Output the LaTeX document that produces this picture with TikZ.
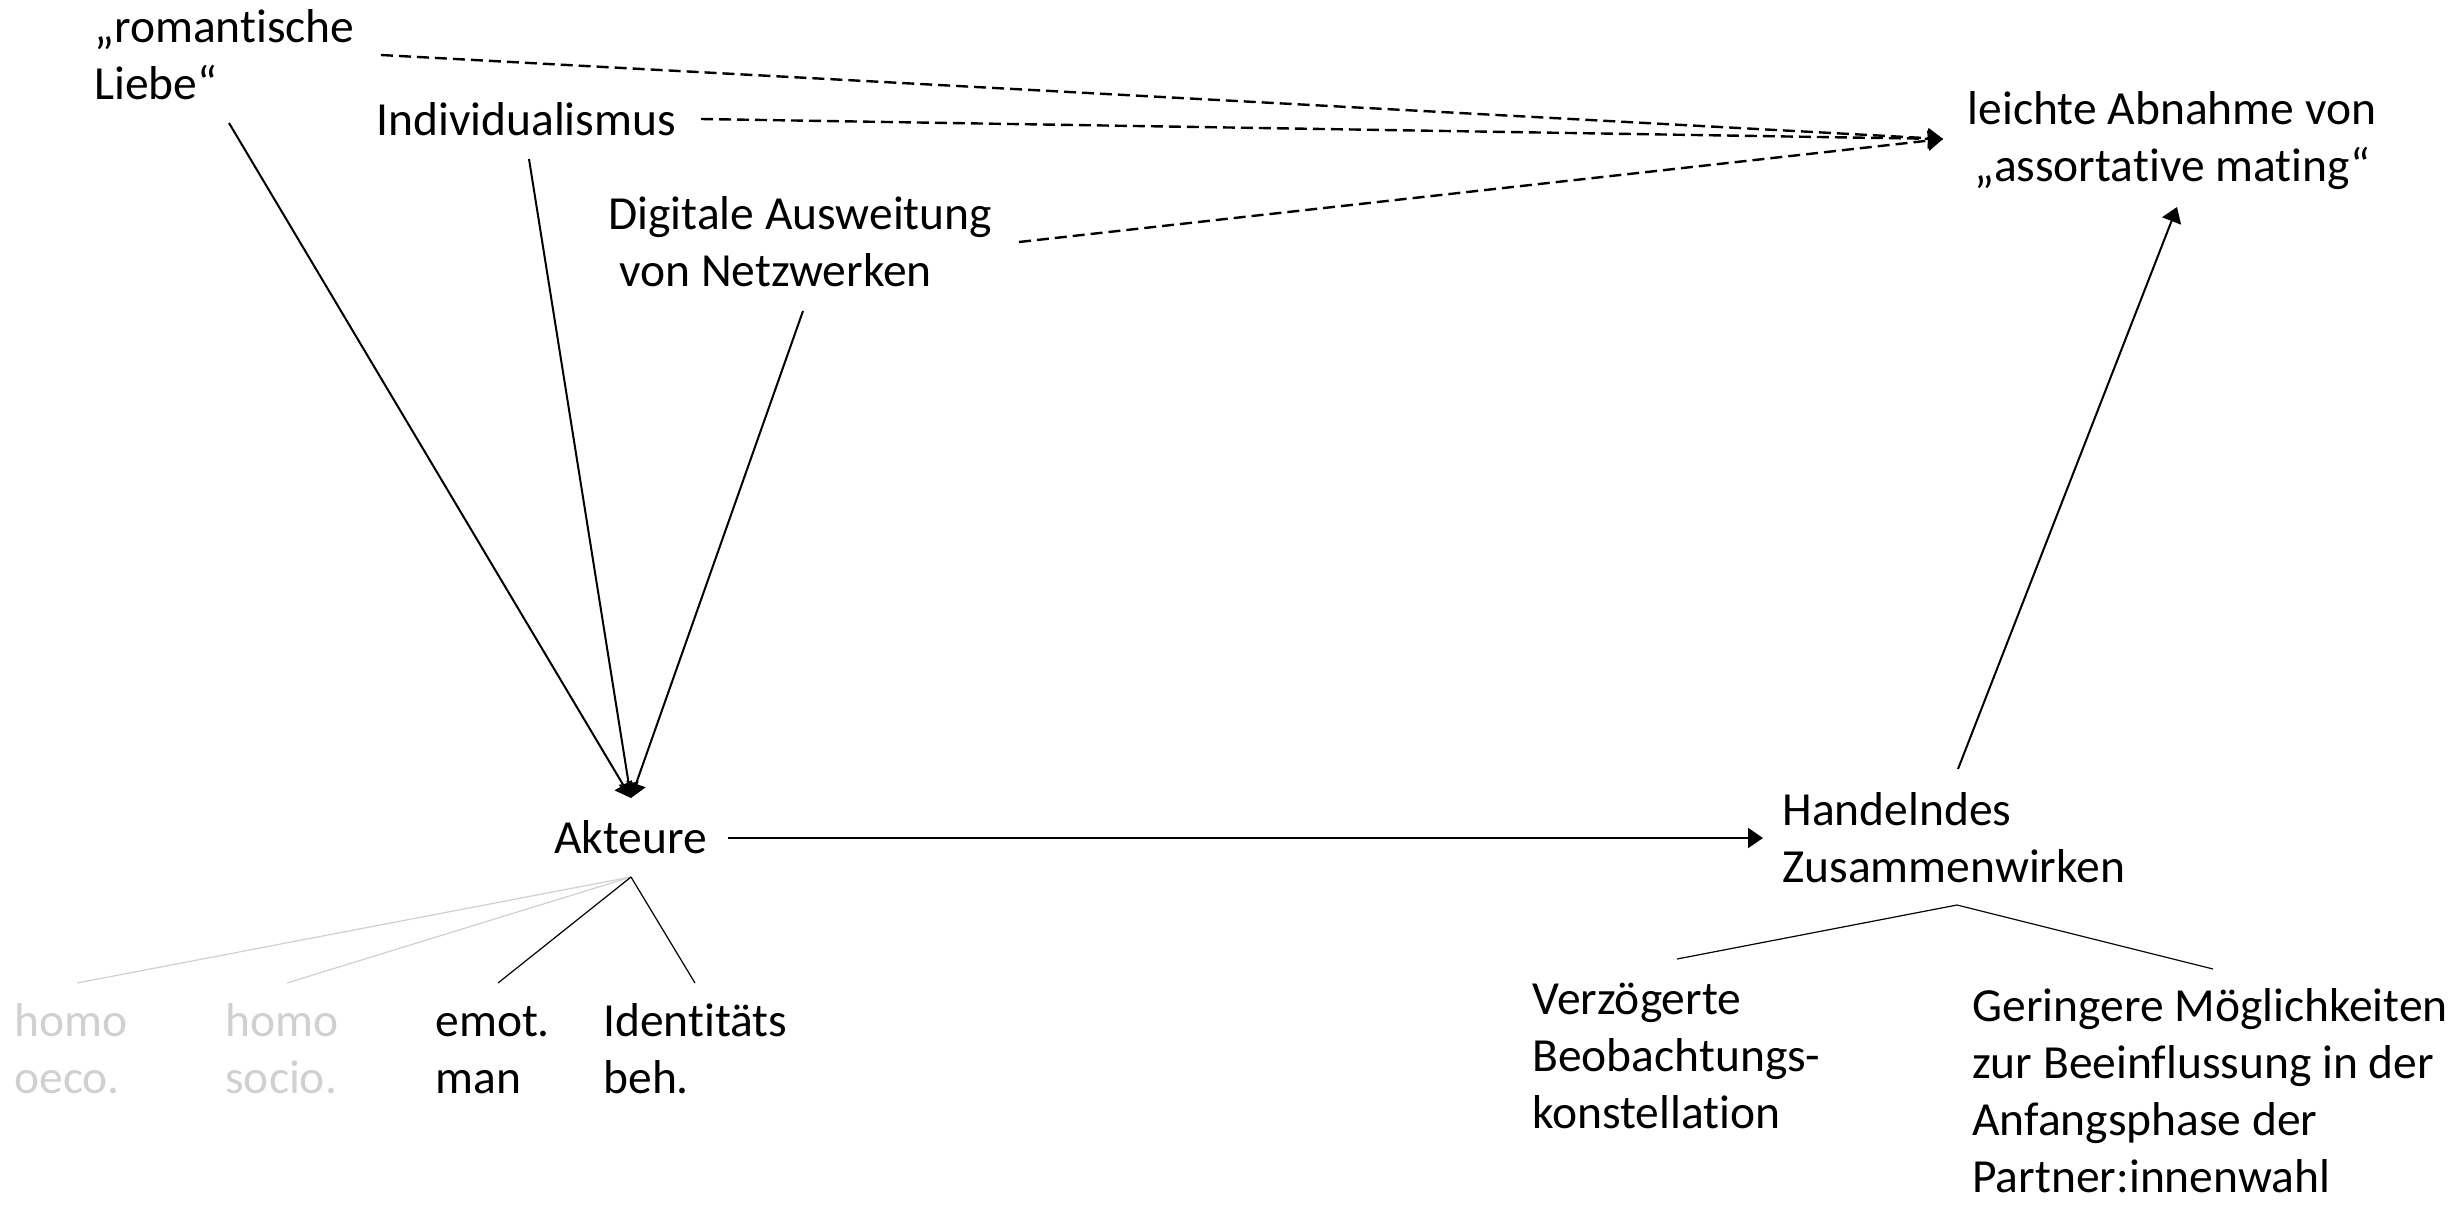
\documentclass[tikz,border=0pt]{standalone}
\usepackage{fontspec}
\setmainfont{Carlito}[Ligatures=NoCommon]
\usetikzlibrary{arrows.meta}
\definecolor{lightgr}{RGB}{208,208,208}
\begin{document}
\begin{tikzpicture}[x=0.5pt,y=-0.5pt,
  lbl/.style={anchor=base west, inner sep=0pt, align=left, font=\fontsize{23.75}{28.5}\selectfont},
  lblc/.style={lbl, anchor=base, align=center},
  grey/.style={text=lightgr},
  mainarrow/.style={line width=1pt, -{Triangle[length=7.5pt,width=10pt]}},
  dasharrow/.style={line width=1.2pt, dash pattern=on 6pt off 3pt, -{Triangle[length=7.5pt,width=10pt]}},
  branch/.style={line width=0.6pt},
  greybranch/.style={line width=0.6pt, draw=lightgr}
]
\useasboundingbox (0,0) rectangle (2458,1210);
% nodes (anchor: baseline of last line)
\node[lbl] (rom) at (94,99) {„romantische\\Liebe“};
\node[lbl] (ind) at (376,135) {Individualismus};
\node[lbl] (dig) at (608,286) {Digitale Ausweitung\\\hspace*{5.5pt}von Netzwerken};
\node[lblc] (abn) at (2172,181) {leichte Abnahme von\\„assortative mating“};
\node[lbl] (akt) at (554,853) {Akteure};
\node[lbl] (han) at (1782,882) {Handelndes\\Zusammenwirken};
\node[lbl,grey] (oeco) at (14,1093) {homo\\oeco.};
\node[lbl,grey] (socio) at (225,1093) {homo\\socio.};
\node[lbl] (emot) at (435,1093) {emot.\\man};
\node[lbl] (iden) at (603,1093) {Identitäts\\beh.};
\node[lbl] (verz) at (1532,1128) {Verzögerte\\Beobachtungs-\\konstellation};
\node[lbl] (ger) at (1972,1192) {Geringere Möglichkeiten\\zur Beeinflussung in der\\Anfangsphase der\\Partner:innenwahl};
% anchor coordinates
\coordinate (romS) at (229,123);
\coordinate (indS) at (529,159);
\coordinate (digS) at (803,311);
\coordinate (romD) at (381,55);
\coordinate (indD) at (701,119);
\coordinate (digD) at (1019,242);
\coordinate (abnT) at (1943,139);
\coordinate (abnB) at (2177,207);
\coordinate (aktT) at (631,798);
\coordinate (aktR) at (728,838);
\coordinate (aktB) at (631,877);
\coordinate (hanL) at (1763,838);
\coordinate (hanT) at (1958,769);
\coordinate (hanB) at (1957,905);
\coordinate (oecoT) at (77,983);
\coordinate (socioT) at (287,983);
\coordinate (emotT) at (498,983);
\coordinate (idenT) at (695,983);
\coordinate (verzT) at (1677,959);
\coordinate (gerT) at (2213,969);
% connectors
\draw[mainarrow] (romS) -- (aktT);
\draw[mainarrow] (indS) -- (aktT);
\draw[mainarrow] (digS) -- (aktT);
\draw[dasharrow] (romD) -- (abnT);
\draw[dasharrow] (indD) -- (abnT);
\draw[dasharrow] (digD) -- (abnT);
\draw[mainarrow] (aktR) -- (hanL);
\draw[mainarrow] (hanT) -- (abnB);
\draw[greybranch] (aktB) -- (oecoT);
\draw[greybranch] (aktB) -- (socioT);
\draw[branch] (aktB) -- (emotT);
\draw[branch] (aktB) -- (idenT);
\draw[branch] (hanB) -- (verzT);
\draw[branch] (hanB) -- (gerT);
\end{tikzpicture}
\end{document}
